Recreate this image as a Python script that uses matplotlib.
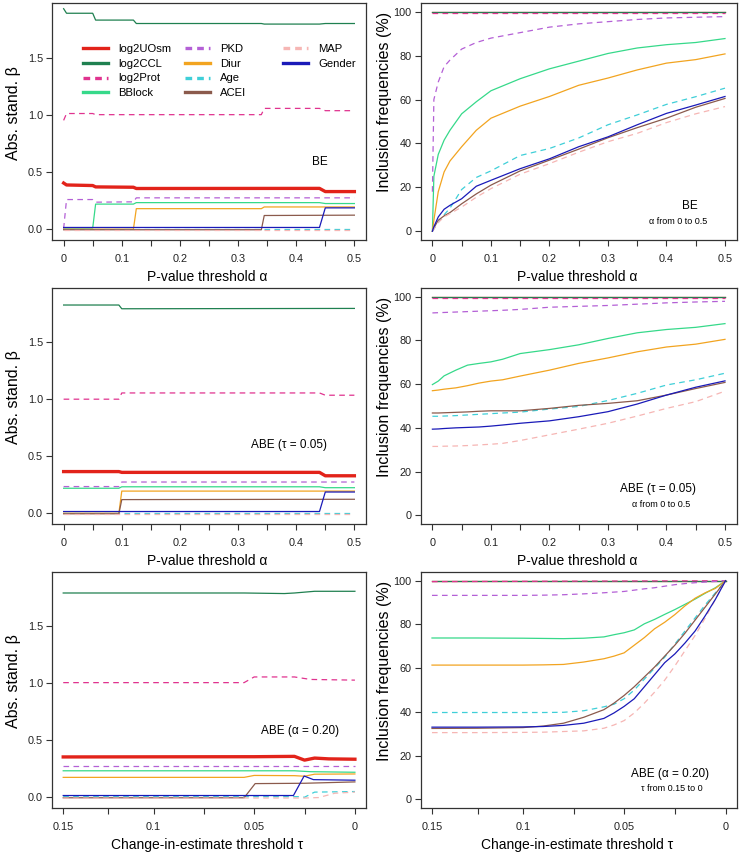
import numpy as np
import matplotlib
matplotlib.use('Agg')
import matplotlib.pyplot as plt
from matplotlib.lines import Line2D
from matplotlib.legend import Legend

plt.rcParams['font.family'] = ['Liberation Sans', 'DejaVu Sans']

# ---------------- data ----------------
variables = ['log2UOsm', 'log2CCL', 'log2Prot', 'BBlock', 'PKD', 'Diur', 'Age', 'ACEI', 'MAP', 'Gender']

alpha_ticks = [0, 0.05, 0.1, 0.15, 0.2, 0.25, 0.3, 0.35, 0.4, 0.45, 0.5]
alpha_tick_labels = ['0', '', '0.1', '', '0.2', '', '0.3', '', '0.4', '', '0.5']
tau_ticks = [0.15, 0.125, 0.1, 0.075, 0.05, 0.025, 0]
tau_tick_labels = ['0.15', '', '0.1', '', '0.05', '', '0']
beta_ticks = [0, 0.5, 1.0, 1.5]
beta_tick_labels = ['0.0', '0.5', '1.0', '1.5']
freq_ticks = [0, 20, 40, 60, 80, 100]

# Panel A: BE, abs. standardized beta vs alpha (x, y breakpoints per variable)
A = {
    'log2UOsm': ([0, 0.005, 0.05, 0.055, 0.12, 0.125, 0.44, 0.45, 0.5],
                 [0.40, 0.383, 0.378, 0.366, 0.363, 0.352, 0.353, 0.325, 0.325]),
    'log2CCL': ([0, 0.005, 0.05, 0.055, 0.12, 0.125, 0.34, 0.345, 0.44, 0.45, 0.5],
                [1.93, 1.89, 1.89, 1.83, 1.83, 1.80, 1.80, 1.795, 1.795, 1.80, 1.80]),
    'log2Prot': ([0, 0.005, 0.05, 0.055, 0.34, 0.345, 0.44, 0.45, 0.5],
                 [0.95, 1.01, 1.01, 1.0, 1.0, 1.055, 1.055, 1.035, 1.035]),
    'BBlock': ([0, 0.05, 0.055, 0.12, 0.125, 0.44, 0.45, 0.5],
               [0.005, 0.005, 0.215, 0.215, 0.228, 0.228, 0.22, 0.22]),
    'PKD': ([0, 0.005, 0.05, 0.055, 0.12, 0.125, 0.5],
            [0.0, 0.255, 0.255, 0.232, 0.235, 0.27, 0.27]),
    'Diur': ([0, 0.12, 0.125, 0.34, 0.345, 0.5],
             [-0.005, -0.005, 0.175, 0.175, 0.19, 0.19]),
    'Age': ([0, 0.5], [0.0, 0.0]),
    'ACEI': ([0, 0.34, 0.345, 0.5], [-0.01, -0.01, 0.115, 0.118]),
    'MAP': ([0, 0.5], [-0.012, -0.012]),
    'Gender': ([0, 0.44, 0.45, 0.5], [0.01, 0.01, 0.182, 0.182]),
}

# Panel B: BE, inclusion frequencies vs alpha
B_alpha = [0, 0.0025, 0.01, 0.02, 0.03, 0.05, 0.075, 0.1, 0.15, 0.2, 0.25, 0.3, 0.35, 0.4, 0.45, 0.5]
B_ends = [0, 0.5]
B = {
    'log2UOsm': (B_ends, [100, 100]),
    'log2CCL': (B_ends, [100, 100]),
    'log2Prot': (B_ends, [99.6, 99.6]),
    'BBlock': (B_alpha, [0, 25, 35, 41.5, 46, 53.5, 59, 64, 69.5, 74, 77.5, 81, 83.5, 85, 86, 87.8]),
    'PKD': (B_alpha, [18, 60, 68, 75, 78, 83, 86, 88, 90.5, 93, 94.5, 95.5, 96.5, 97.2, 97.5, 97.8]),
    'Diur': (B_alpha, [0, 5, 18, 27, 32, 38.5, 46, 51.5, 57, 61.4, 66.5, 69.8, 73.5, 76.6, 78.2, 80.8]),
    'Age': (B_alpha, [0, 1, 4, 7.5, 10.5, 19, 24.5, 27.5, 34.5, 37.7, 42.5, 48.5, 53, 57.8, 61.3, 65.2]),
    'ACEI': (B_alpha, [0, 1.5, 5, 7, 8.5, 12.5, 17, 21, 27.5, 32.4, 37.4, 42.6, 47.2, 51.5, 56.5, 60.5]),
    'MAP': (B_alpha, [0, 1, 4, 6.5, 8, 11, 15.5, 19.4, 26, 30.8, 36, 40.8, 44.6, 49.5, 53.5, 56.8]),
    'Gender': (B_alpha, [0, 2, 6.5, 10, 11.8, 14.8, 20.5, 23.2, 28.5, 33, 38.5, 43, 48.5, 53.7, 57.5, 61.4]),
}

# Panel C: ABE (tau = 0.05), abs. standardized beta vs alpha
C = {
    'log2UOsm': ([0, 0.095, 0.1, 0.44, 0.45, 0.5], [0.362, 0.362, 0.355, 0.355, 0.325, 0.325]),
    'log2CCL': ([0, 0.095, 0.1, 0.5], [1.83, 1.83, 1.797, 1.80]),
    'log2Prot': ([0, 0.095, 0.1, 0.44, 0.45, 0.5], [1.0, 1.0, 1.055, 1.055, 1.035, 1.035]),
    'BBlock': ([0, 0.095, 0.1, 0.44, 0.45, 0.5], [0.215, 0.215, 0.228, 0.228, 0.22, 0.22]),
    'PKD': ([0, 0.095, 0.1, 0.5], [0.23, 0.23, 0.27, 0.27]),
    'Diur': ([0, 0.095, 0.1, 0.5], [-0.005, -0.005, 0.19, 0.19]),
    'Age': ([0, 0.5], [0.0, 0.0]),
    'ACEI': ([0, 0.095, 0.1, 0.5], [-0.01, -0.01, 0.115, 0.118]),
    'MAP': ([0, 0.5], [-0.012, -0.012]),
    'Gender': ([0, 0.44, 0.45, 0.5], [0.01, 0.01, 0.182, 0.182]),
}

# Panel D: ABE (tau = 0.05), inclusion frequencies vs alpha
D_alpha = [0, 0.01, 0.02, 0.04, 0.06, 0.08, 0.1, 0.12, 0.15, 0.2, 0.25, 0.3, 0.35, 0.4, 0.45, 0.5]
D_ends = [0, 0.5]
D = {
    'log2UOsm': (D_ends, [100, 100]),
    'log2CCL': (D_ends, [100, 100]),
    'log2Prot': (D_ends, [99.6, 99.6]),
    'BBlock': (D_alpha, [59.8, 61.4, 63.8, 66.4, 68.7, 69.5, 70.2, 71.4, 74, 75.8, 78, 80.9, 83.5, 85, 86, 87.7]),
    'PKD': (D_alpha, [92.6, 92.7, 92.8, 93, 93.2, 93.4, 93.6, 93.8, 94.2, 95.2, 95.6, 96, 96.6, 97.2, 97.6, 97.9]),
    'Diur': (D_alpha, [57, 57.3, 57.7, 58.3, 59.3, 60.5, 61.4, 62, 63.7, 66.4, 69.5, 72, 74.8, 77, 78.3, 80.5]),
    'Age': (D_alpha, [45.3, 45.3, 45.4, 45.6, 45.9, 46.2, 46.5, 46.8, 47.2, 48.6, 49.8, 52.5, 55.8, 59.6, 62, 65]),
    'ACEI': (D_alpha, [46.8, 46.8, 46.9, 47.1, 47.3, 47.6, 47.8, 47.8, 47.8, 48.9, 50.3, 51.2, 52.4, 55, 58, 60.8]),
    'MAP': (D_alpha, [31.5, 31.5, 31.6, 31.7, 31.9, 32.2, 32.5, 32.9, 34.2, 36.8, 39.4, 42.1, 45.4, 48.9, 52, 56.8]),
    'Gender': (D_alpha, [39.4, 39.5, 39.7, 40, 40.2, 40.4, 40.8, 41.3, 42.1, 43.2, 45.1, 47.4, 50.9, 55, 58.6, 61.5]),
}

# Panel E: ABE (alpha = 0.20), abs. standardized beta vs tau
E = {
    'log2UOsm': ([0.15, 0.05, 0.03, 0.025, 0.02, 0.013, 0], [0.35, 0.352, 0.355, 0.322, 0.34, 0.333, 0.33]),
    'log2CCL': ([0.15, 0.055, 0.035, 0.03, 0.02, 0], [1.795, 1.795, 1.79, 1.795, 1.81, 1.81]),
    'log2Prot': ([0.15, 0.055, 0.05, 0.03, 0.022, 0], [1.005, 1.005, 1.055, 1.055, 1.033, 1.027]),
    'BBlock': ([0.15, 0.03, 0.022, 0], [0.228, 0.228, 0.22, 0.215]),
    'PKD': ([0.15, 0], [0.267, 0.267]),
    'Diur': ([0.15, 0.055, 0.05, 0.03, 0.025, 0.02, 0], [0.17, 0.17, 0.187, 0.185, 0.18, 0.198, 0.2]),
    'Age': ([0.15, 0.028, 0.025, 0.02, 0], [0.0, 0.0, -0.005, 0.04, 0.045]),
    'ACEI': ([0.15, 0.055, 0.0495, 0.025, 0], [-0.01, -0.01, 0.115, 0.118, 0.13]),
    'MAP': ([0.15, 0.025, 0.018, 0.01, 0], [-0.012, -0.012, -0.008, 0.03, 0.04]),
    'Gender': ([0.15, 0.0305, 0.0252, 0.0206, 0], [0.01, 0.01, 0.182, 0.15, 0.145]),
}

# Panel F: ABE (alpha = 0.20), inclusion frequencies vs tau
F_tau = [0.15, 0.125, 0.1, 0.09, 0.08, 0.07, 0.06, 0.055, 0.05, 0.045, 0.04, 0.035, 0.03,
         0.025, 0.02, 0.015, 0.01, 0.005, 0]
F_ends = [0.15, 0]
F = {
    'log2UOsm': (F_ends, [100, 100]),
    'log2CCL': (F_ends, [100, 100]),
    'log2Prot': (F_ends, [99.6, 100]),
    'BBlock': (F_tau, [73.8, 73.8, 73.7, 73.6, 73.5, 73.7, 74.3, 75.3, 76.2, 77.5, 80.3, 82.3, 84.6,
                       86.8, 89.2, 91.6, 94.3, 96.8, 100]),
    'PKD': (F_tau, [93.3, 93.3, 93.3, 93.4, 93.6, 94, 94.5, 94.8, 95.1, 95.7, 96.3, 96.8, 97.5,
                    98.2, 98.7, 99.1, 99.4, 99.7, 100]),
    'Diur': (F_tau, [61.4, 61.4, 61.4, 61.5, 61.7, 62.8, 64.3, 65.5, 67, 70.5, 74, 78, 81,
                     84.5, 88.5, 92, 94.5, 96.5, 100]),
    'Age': (F_tau, [39.7, 39.7, 39.7, 39.7, 39.8, 40.5, 42.3, 43.5, 46, 50, 55, 60, 65,
                    71, 77, 83, 89, 94.5, 100]),
    'ACEI': (F_tau, [32.4, 32.5, 32.8, 33.5, 34.8, 37.5, 41, 44, 47.5, 51.5, 56, 60.5, 65.5,
                     70.5, 76, 82, 88, 94, 100]),
    'MAP': (F_tau, [30.5, 30.5, 30.6, 30.7, 31, 31.3, 32.5, 34, 36, 39.5, 44, 49, 54.5,
                    61, 68, 75, 83, 91.5, 100]),
    'Gender': (F_tau, [33, 33, 33.1, 33.3, 33.8, 34.8, 37, 39.5, 42.5, 46, 51.5, 57, 62.5,
                       66.5, 71.5, 77, 84, 91.5, 100]),
}

# ---------------- styles ----------------
colors = {
    'log2UOsm': '#e2231a', 'log2CCL': '#1f8050', 'log2Prot': '#e0338f', 'BBlock': '#36d98a',
    'PKD': '#b460d6', 'Diur': '#f2a420', 'Age': '#3fcfd8', 'ACEI': '#8b5a4c',
    'MAP': '#f6b6b4', 'Gender': '#1a1ab8',
}
dashed = {'log2Prot', 'PKD', 'Age', 'MAP'}


def draw(ax, data, left):
    for v in variables:
        xs, ys = data[v]
        lw = 2.4 if (left and v == 'log2UOsm') else 0.9
        kw = dict(color=colors[v], lw=lw, solid_joinstyle='round')
        if v in dashed:
            ln, = ax.plot(xs, ys, **kw)
            ln.set_dashes((4.5, 3.5))
        else:
            ax.plot(xs, ys, **kw)


def tau_fwd(t):
    t = np.asarray(t, dtype=float)
    return np.where(t > 0.1, 605 + (t - 0.1) * 5440,
                    np.where(t > 0.05, 303 + (t - 0.05) * 6040, t * 6060))


def tau_inv(p):
    p = np.asarray(p, dtype=float)
    return np.where(p > 605, 0.1 + (p - 605) / 5440,
                    np.where(p > 303, 0.05 + (p - 303) / 6040, p / 6060))


def style(ax):
    for s in ax.spines.values():
        s.set_color('#333333')
        s.set_linewidth(0.9)
    ax.tick_params(direction='out', length=4, width=0.8, colors='#333333',
                   labelsize=7.8, labelcolor='#222222')
    ax.tick_params(axis='x', pad=6)
    ax.tick_params(axis='y', pad=2.5)


fig = plt.figure(figsize=(7.4, 8.55), dpi=100)
W, H = 740.0, 855.0
col_x = [(52, 366), (420.7, 736.7)]
row_y = [(3, 240), (288, 524), (572, 808)]

panels = [[A, B], [C, D], [E, F]]
axes = []
for r in range(3):
    for c in range(2):
        x0, x1 = col_x[c]
        y0, y1 = row_y[r]
        ax = fig.add_axes([x0 / W, 1 - y1 / H, (x1 - x0) / W, (y1 - y0) / H])
        if r == 2:
            ax.set_xscale('function', functions=(tau_fwd, tau_inv))
        draw(ax, panels[r][c], left=(c == 0))
        style(ax)
        if r < 2:
            ax.set_xlim(-0.02, 0.52)
            ax.set_xticks(alpha_ticks)
            ax.set_xticklabels(alpha_tick_labels)
            ax.set_xlabel('P-value threshold α', fontsize=10, va='center')
        else:
            ax.set_xlim(0.1562, -0.0055)
            ax.set_xticks(tau_ticks)
            ax.set_xticklabels(tau_tick_labels)
            ax.set_xlabel('Change-in-estimate threshold τ', fontsize=10, va='center')
        ax.minorticks_off()
        ax.xaxis.set_label_coords(0.494, -0.155)
        if c == 0:
            ax.set_ylim(-0.1, 1.98)
            ax.set_yticks(beta_ticks)
            ax.set_yticklabels(beta_tick_labels)
            ax.set_ylabel('Abs. stand. β', fontsize=11.5, va='center')
            ax.yaxis.set_label_coords(-0.124, 0.536)
        else:
            ax.set_ylim(-4, 104)
            ax.set_yticks(freq_ticks)
            ax.set_ylabel('Inclusion frequencies (%)', fontsize=11.5, va='center')
            ax.yaxis.set_label_coords(-0.113, 0.582)
        axes.append(ax)

axA, axB, axC, axD, axE, axF = axes

# annotations
axA.text(0.44, 0.585, 'BE', fontsize=8.5, ha='center', va='center')
axB.text(0.4395, 11.3, 'BE', fontsize=8.5, ha='center', va='center')
axB.text(0.42, 4.4, 'α from 0 to 0.5', fontsize=6.5, ha='center', va='center')
axC.text(0.387, 0.6, 'ABE (τ = 0.05)', fontsize=8.5, ha='center', va='center')
axD.text(0.386, 12.2, 'ABE (τ = 0.05)', fontsize=8.5, ha='center', va='center')
axD.text(0.39, 4.9, 'α from 0 to 0.5', fontsize=6.5, ha='center', va='center')
axE.text(0.027, 0.583, 'ABE (α = 0.20)', fontsize=8.5, ha='center', va='center')
axF.text(0.0272, 11.6, 'ABE (α = 0.20)', fontsize=8.5, ha='center', va='center')
axF.text(0.0267, 4.7, 'τ from 0.15 to 0', fontsize=6.5, ha='center', va='center')

# legend in three columns
legend_cols = [variables[0:4], variables[4:8], variables[8:10]]
legend_x = [0.0987, 0.4236, 0.7357]
for names, lx in zip(legend_cols, legend_x):
    handles = []
    for v in names:
        h = Line2D([], [], color=colors[v], lw=2.4)
        if v in dashed:
            h.set_dashes((2.0, 1.5))
        handles.append(h)
    leg = Legend(axA, handles, names, loc='upper left', bbox_to_anchor=(lx, 0.826),
                 frameon=False, fontsize=8.1, borderpad=0, borderaxespad=0,
                 handlelength=2.22, handletextpad=0.89, labelspacing=0.41)
    axA.add_artist(leg)

fig.savefig('out.png', dpi=100)
